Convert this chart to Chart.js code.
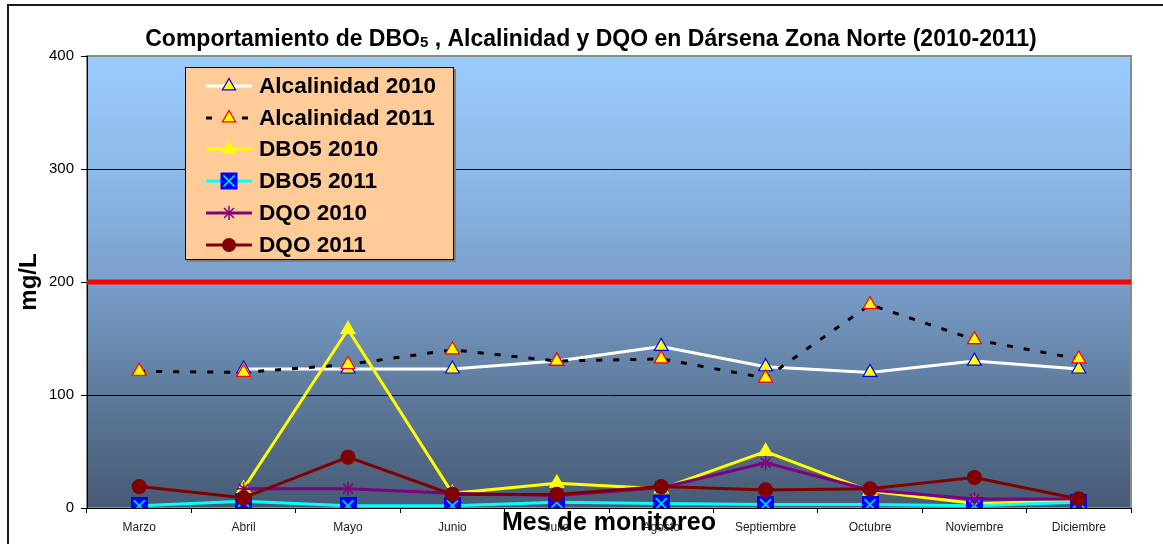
<!DOCTYPE html>
<html lang="es">
<head>
<meta charset="utf-8">
<title>DBO5, Alcalinidad y DQO - Dársena Zona Norte</title>
<script src="https://cdn.jsdelivr.net/npm/chart.js@4.4.1/dist/chart.umd.min.js"></script>
<style>
  html, body { margin: 0; padding: 0; background: #fff; }
  #wrap { position: relative; width: 1163px; height: 544px; overflow: hidden; }
  #leyenda {
    position: absolute; left: 185px; top: 67px; width: 269px; height: 193px;
    box-sizing: border-box; padding-top: 2px;
    background: #FFCC99; border: 1.5px solid #000; box-shadow: 2px 2px 0 #7f7f7f;
    font: bold 22.6px Arial, "Liberation Sans", sans-serif; color: #000;
  }
  .item { display: flex; align-items: center; height: 31.8px; white-space: nowrap; }
  .item svg { margin-left: 20px; margin-right: 5px; flex: none; }
</style>
</head>
<body>
<div id="wrap">
  <canvas id="grafico" width="1163" height="544"></canvas>
  <div id="leyenda"></div>
</div>
<script>
const meses = ["Marzo", "Abril", "Mayo", "Junio", "Julio", "Agosto", "Septiembre", "Octubre", "Noviembre", "Diciembre"];
const alcalinidad2010 = [null, 123, 123, 123, 130, 143, 125, 120, 130, 123];
const alcalinidad2011 = [121, 120, 127, 140, 130, 132, 115, 180, 149, 132];
const dbo2010 = [null, 17, 158, 13, 22, 17, 50, 15, 4, 6];
const dbo2011 = [2, 6, 2, 2, 5, 4, 3, 3, 2, 5];
const dqo2010 = [null, 17, 17, 13, 11, 18, 40, 16, 8, 8];
const dqo2011 = [19, 9, 45, 12, 12, 19, 16, 17, 27, 8];
const ticksY = [0, 100, 200, 300, 400];
const limite = 200;

const titulo = ["Comportamiento de DBO", "5", " , Alcalinidad y DQO en Dársena Zona Norte (2010-2011)"];
const tituloEjeX = "Mes de monitoreo";
const tituloEjeY = "mg/L";

const fuente = 'Arial, "Liberation Sans", sans-serif';

// cuadro azul con aspa cyan (marcador de DBO5 2011)
function marcaCuadro(tam) {
  const c = document.createElement("canvas");
  c.width = tam; c.height = tam;
  const g = c.getContext("2d");
  g.fillStyle = "#0000FF";
  g.fillRect(0, 0, tam, tam);
  g.strokeStyle = "#00FFFF";
  g.lineWidth = 1.5;
  g.beginPath();
  g.moveTo(3, 3); g.lineTo(tam - 3, tam - 3);
  g.moveTo(tam - 3, 3); g.lineTo(3, tam - 3);
  g.stroke();
  return c;
}

const series = [
  { label: "Alcalinidad 2010", data: alcalinidad2010, linea: "#FFFFFF", dash: [], marca: "triangle", relleno: "#FFFF00", borde: "#0000FF", r: 8 },
  { label: "Alcalinidad 2011", data: alcalinidad2011, linea: "#000000", dash: [6, 11], marca: "triangle", relleno: "#FFFF00", borde: "#FF0000", r: 8 },
  { label: "DBO5 2010", data: dbo2010, linea: "#FFFF00", dash: [], marca: "triangle", relleno: "#FFFF00", borde: "#FFFF00", r: 8 },
  { label: "DBO5 2011", data: dbo2011, linea: "#00FFFF", dash: [], marca: "cuadro", relleno: "#0000FF", borde: "#0000FF", r: 8 },
  { label: "DQO 2010", data: dqo2010, linea: "#800080", dash: [], marca: "star", relleno: "#800080", borde: "#800080", r: 7 },
  { label: "DQO 2011", data: dqo2011, linea: "#800000", dash: [], marca: "circle", relleno: "#800000", borde: "#800000", r: 7 }
];

const datasets = series.map((s, i) => ({
  label: s.label,
  data: s.data,
  borderColor: s.linea,
  borderWidth: 3,
  borderDash: s.dash,
  pointStyle: s.marca === "cuadro" ? marcaCuadro(17) : s.marca,
  pointRadius: s.r,
  pointBackgroundColor: s.relleno,
  pointBorderColor: s.borde,
  pointBorderWidth: s.marca === "star" ? 1.5 : 1.2,
  tension: 0,
  order: series.length - i
}));

const fondo = {
  id: "fondo",
  beforeDraw(chart) {
    const { ctx, chartArea: a, width, height } = chart;
    ctx.save();
    ctx.fillStyle = "#fff";
    ctx.fillRect(0, 0, width, height);

    // marco exterior
    ctx.strokeStyle = "#1a1a1a";
    ctx.lineWidth = 2;
    ctx.beginPath();
    ctx.moveTo(8, height + 5);
    ctx.lineTo(8, 5);
    ctx.lineTo(width + 5, 5);
    ctx.stroke();

    const grad = ctx.createLinearGradient(0, a.top, 0, a.bottom);
    grad.addColorStop(0, "#9ACCFF");
    grad.addColorStop(0.25, "#8DBAE8");
    grad.addColorStop(0.5, "#7A9FCA");
    grad.addColorStop(0.75, "#5E7A9B");
    grad.addColorStop(1, "#465A74");
    ctx.fillStyle = grad;
    ctx.fillRect(a.left, a.top, a.width, a.height);
    ctx.strokeStyle = "#8a8a8a";
    ctx.lineWidth = 2;
    ctx.strokeRect(a.left, a.top, a.width, a.height);

    // título con subíndice
    const tamanos = [23, 15, 23];
    let total = 0;
    titulo.forEach((t, i) => {
      ctx.font = "bold " + tamanos[i] + "px " + fuente;
      total += ctx.measureText(t).width;
    });
    let x = 591 - total / 2;
    ctx.fillStyle = "#000";
    ctx.textBaseline = "alphabetic";
    titulo.forEach((t, i) => {
      ctx.font = "bold " + tamanos[i] + "px " + fuente;
      ctx.fillText(t, x, i === 1 ? 47 : 46);
      x += ctx.measureText(t).width;
    });
    ctx.restore();
  },
  beforeDatasetsDraw(chart) {
    const { ctx, chartArea: a, scales } = chart;
    const y = scales.y.getPixelForValue(limite);
    ctx.save();
    ctx.strokeStyle = "#FF0000";
    ctx.lineWidth = 5;
    ctx.beginPath();
    ctx.moveTo(a.left, y);
    ctx.lineTo(a.right, y);
    ctx.stroke();
    ctx.restore();
  }
};

new Chart(document.getElementById("grafico"), {
  type: "line",
  data: { labels: meses, datasets: datasets },
  options: {
    responsive: false,
    animation: false,
    layout: { padding: { top: 56, right: 32, left: 0, bottom: 0 } },
    plugins: {
      legend: { display: false },
      tooltip: { enabled: false },
      title: { display: false }
    },
    scales: {
      x: {
        type: "category",
        offset: true,
        afterFit: s => { s.height = 36; },
        grid: { offset: true, drawOnChartArea: false, tickLength: 5, tickColor: "#000" },
        border: { color: "#000", width: 1 },
        ticks: { font: { size: 12, family: fuente }, color: "#222", padding: 7, maxRotation: 0, autoSkip: false },
        title: {
          display: true, text: tituloEjeX, color: "#000",
          font: { size: 25, weight: "bold", family: fuente },
          padding: { top: 0, bottom: 6 }
        }
      },
      y: {
        min: 0, max: 400,
        afterFit: s => { s.width = 87; },
        afterBuildTicks: s => { s.ticks = ticksY.map(v => ({ value: v })); },
        grid: {
          color: c => (c.tick && c.tick.value === 400 ? "rgba(0,0,0,0)" : "#000"),
          tickColor: "#000", tickLength: 6, lineWidth: 1
        },
        border: { color: "#000", width: 1 },
        ticks: { font: { size: 15, family: fuente }, color: "#000", padding: 7 },
        title: {
          display: true, text: tituloEjeY, color: "#000",
          font: { size: 24, weight: "bold", family: fuente },
          padding: { top: 15, bottom: 0 }
        }
      }
    }
  },
  plugins: [fondo]
});

// leyenda en HTML
function iconoSvg(s) {
  const ns = "http://www.w3.org/2000/svg";
  let m = "";
  if (s.marca === "triangle") {
    m = `<polygon points="23,2.5 29.5,13.8 16.5,13.8" fill="${s.relleno}" stroke="${s.borde}" stroke-width="1.3"/>`;
  } else if (s.marca === "cuadro") {
    m = `<rect x="14.5" y="1.5" width="17" height="17" fill="#0000FF"/>` +
        `<path d="M17.5 4.5 L28.5 15.5 M28.5 4.5 L17.5 15.5" stroke="#00FFFF" stroke-width="1.5"/>`;
  } else if (s.marca === "star") {
    m = `<path d="M23 3 L23 17 M16 10 L30 10 M18 5 L28 15 M28 5 L18 15" stroke="${s.borde}" stroke-width="1.5"/>`;
  } else {
    m = `<circle cx="23" cy="10" r="7" fill="${s.relleno}"/>`;
  }
  const dash = s.dash.length ? ' stroke-dasharray="6 30"' : "";
  return `<svg xmlns="${ns}" width="48" height="20"><line x1="0" y1="10" x2="46" y2="10" stroke="${s.linea}" stroke-width="3"${dash}/>${m}</svg>`;
}

const leyenda = document.getElementById("leyenda");
series.forEach(s => {
  const fila = document.createElement("div");
  fila.className = "item";
  fila.innerHTML = iconoSvg(s) + "<span></span>";
  fila.querySelector("span").textContent = s.label;
  leyenda.appendChild(fila);
});
</script>
</body>
</html>
